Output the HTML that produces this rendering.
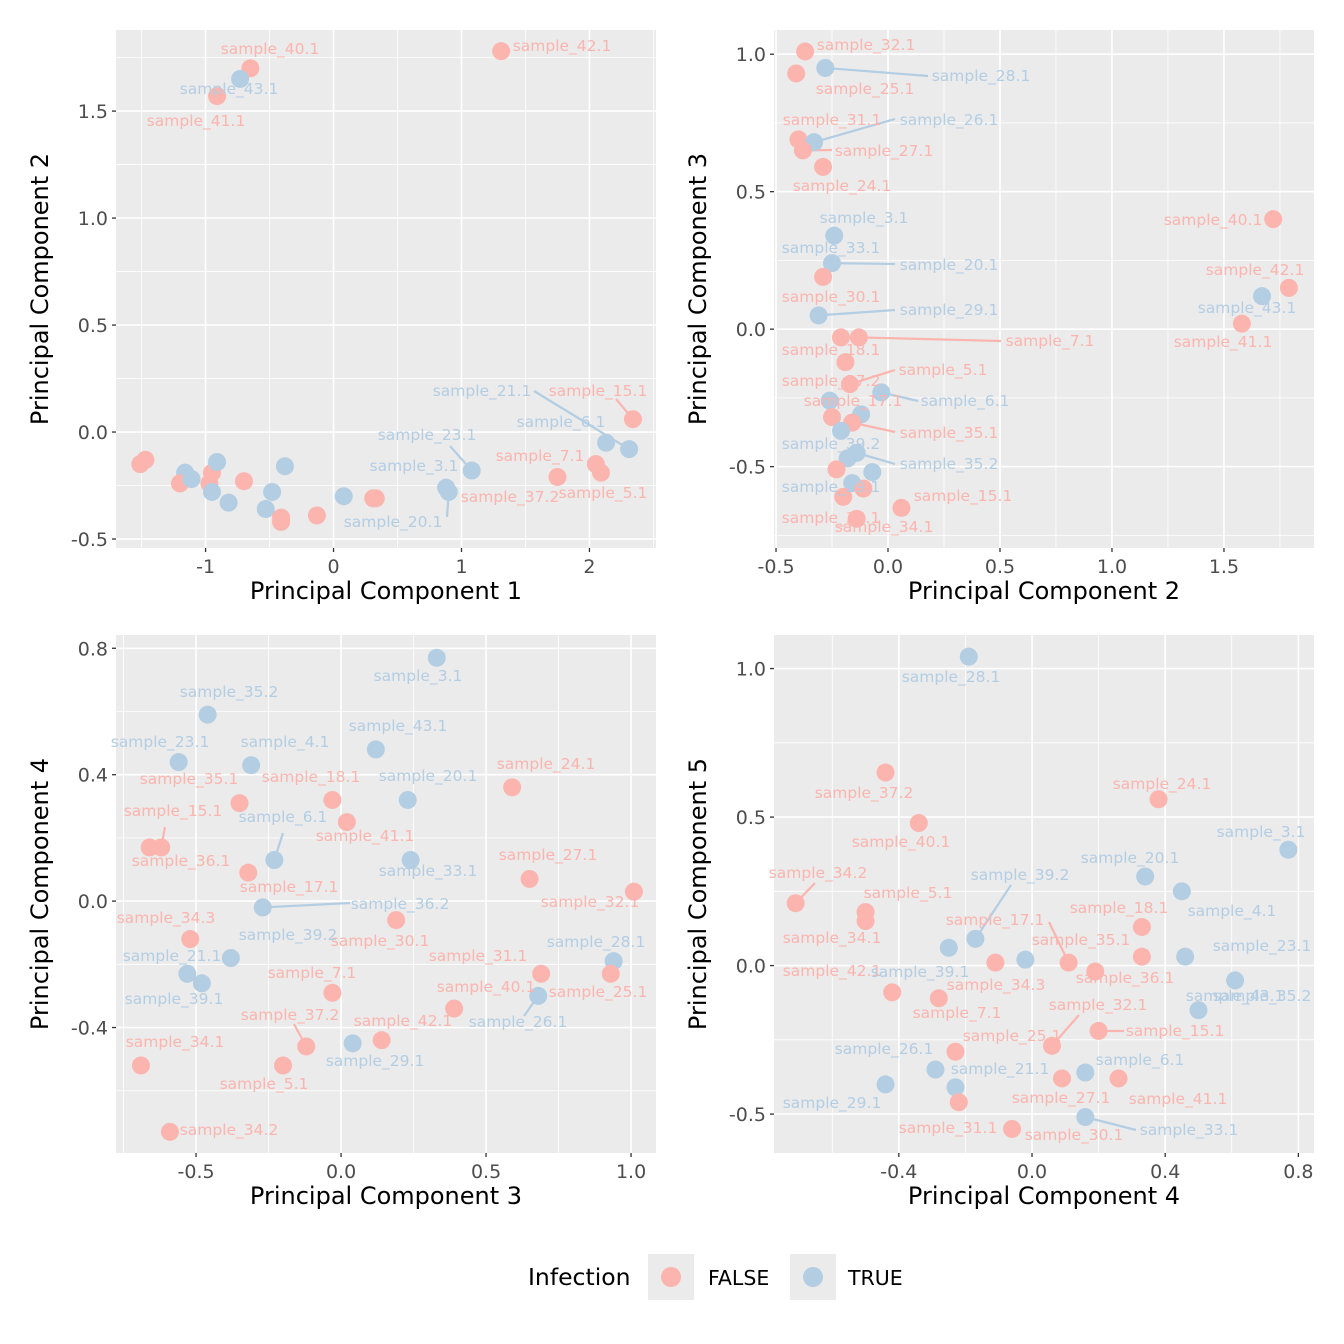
<!DOCTYPE html>
<html><head><meta charset="utf-8">
<style>
html,body{margin:0;padding:0;background:#fff;}
svg{display:block;font-family:"DejaVu Sans","Liberation Sans",sans-serif;}
</style></head>
<body>
<svg id="chart" width="1344" height="1344" viewBox="0 0 1344 1344" xmlns="http://www.w3.org/2000/svg"></svg>
<script>
// ---------- DATA ----------
// Panel 1: PC1 vs PC2
const p1Names=["sample_40.1","sample_42.1","sample_41.1","sample_43.1","a1","a2","a3","a4","a5","a6","a7","a8","a9","a10","a11","a12","a13","a14","a15","a16","a17","a18","a19","a20","sample_3.1","sample_20.1","sample_23.1","sample_37.2","sample_7.1","sample_5.1","sample_6.1","sample_21.1","sample_15.1"];
const p1X=[-0.65,1.31,-0.91,-0.73,-1.51,-1.47,-1.16,-1.20,-1.11,-0.95,-0.97,-0.91,-0.95,-0.70,-0.82,-0.48,-0.38,-0.53,-0.41,-0.41,-0.13,0.08,0.33,0.31,0.88,0.90,1.08,1.75,2.05,2.09,2.13,2.31,2.34];
const p1Y=[1.70,1.78,1.57,1.65,-0.15,-0.13,-0.19,-0.24,-0.22,-0.19,-0.24,-0.14,-0.28,-0.23,-0.33,-0.28,-0.16,-0.36,-0.42,-0.40,-0.39,-0.30,-0.31,-0.31,-0.26,-0.28,-0.18,-0.21,-0.15,-0.19,-0.05,-0.08,0.06];
const p1Grp=["F","F","F","T","F","F","T","F","T","F","F","T","T","F","T","T","T","T","F","F","F","T","F","F","T","T","T","F","F","F","T","T","F"];

// Panel 2: PC2 vs PC3
const p2Names=["sample_32.1","sample_25.1","sample_28.1","sample_31.1","sample_26.1","sample_27.1","sample_24.1","sample_3.1","sample_20.1","sample_30.1","sample_29.1","sample_18.1","sample_7.1","b1","sample_5.1","sample_6.1","b2","b3","b4","sample_35.1","b5","sample_35.2","b6","b7","b8","b9","b10","b11","sample_15.1","b12","sample_40.1","sample_42.1","sample_43.1","sample_41.1"];
const p2X=[-0.37,-0.41,-0.28,-0.40,-0.33,-0.38,-0.29,-0.24,-0.25,-0.29,-0.31,-0.21,-0.13,-0.19,-0.17,-0.03,-0.26,-0.25,-0.12,-0.16,-0.21,-0.14,-0.18,-0.23,-0.07,-0.16,-0.11,-0.20,0.06,-0.14,1.72,1.79,1.67,1.58];
const p2Y=[1.01,0.93,0.95,0.69,0.68,0.65,0.59,0.34,0.24,0.19,0.05,-0.03,-0.03,-0.12,-0.20,-0.23,-0.26,-0.32,-0.31,-0.34,-0.37,-0.45,-0.47,-0.51,-0.52,-0.56,-0.58,-0.61,-0.65,-0.69,0.40,0.15,0.12,0.02];
const p2Grp=["F","F","T","F","T","F","F","T","T","F","T","F","F","F","F","T","T","F","T","F","T","T","T","F","T","T","F","F","F","F","F","F","T","F"];

// Panel 3: PC3 vs PC4
const p3Names=["sample_3.1","sample_35.2","sample_23.1","sample_4.1","sample_43.1","sample_35.1","sample_18.1","sample_41.1","sample_20.1","sample_24.1","c1","sample_15.1","sample_6.1","sample_36.1","sample_33.1","sample_27.1","sample_32.1","sample_36.2","sample_30.1","sample_34.3","sample_21.1","sample_39.1","sample_7.1","sample_31.1","sample_28.1","sample_25.1","sample_40.1","sample_26.1","sample_37.2","sample_29.1","sample_42.1","sample_5.1","sample_34.1","sample_34.2","sample_39.2"];
const p3X=[0.33,-0.46,-0.56,-0.31,0.12,-0.35,-0.03,0.02,0.23,0.59,-0.66,-0.62,-0.23,-0.32,0.24,0.65,1.01,-0.27,0.19,-0.52,-0.53,-0.48,-0.03,0.69,0.94,0.93,0.39,0.68,-0.12,0.04,0.14,-0.20,-0.69,-0.59,-0.38];
const p3Y=[0.77,0.59,0.44,0.43,0.48,0.31,0.32,0.25,0.32,0.36,0.17,0.17,0.13,0.09,0.13,0.07,0.03,-0.02,-0.06,-0.12,-0.23,-0.26,-0.29,-0.23,-0.19,-0.23,-0.34,-0.30,-0.46,-0.45,-0.44,-0.52,-0.52,-0.73,-0.18];
const p3Grp=["T","T","T","T","T","F","F","F","T","F","F","F","T","F","T","F","F","T","F","F","T","T","F","F","T","F","F","T","F","T","F","F","F","F","T"];

// Panel 4: PC4 vs PC5
const p4Names=["sample_3.1","sample_28.1","sample_37.2","sample_40.1","sample_24.1","sample_20.1","sample_4.1","sample_34.2","sample_5.1","sample_34.1","sample_39.2","sample_39.1","d1","d2","sample_17.1","d3","sample_18.1","sample_36.1","sample_23.1","sample_43.1","sample_42.1","sample_34.3","sample_35.2","sample_15.1","sample_32.1","sample_25.1","sample_26.1","sample_29.1","sample_21.1","d4","sample_27.1","sample_6.1","sample_41.1","sample_33.1","sample_31.1"];
const p4X=[0.77,-0.19,-0.44,-0.34,0.38,0.34,0.45,-0.71,-0.50,-0.50,-0.17,-0.25,-0.11,-0.02,0.11,0.19,0.33,0.33,0.46,0.61,-0.42,-0.28,0.50,0.20,0.06,-0.23,-0.29,-0.44,-0.23,-0.22,0.09,0.16,0.26,0.16,-0.06];
const p4Y=[0.39,1.04,0.65,0.48,0.56,0.30,0.25,0.21,0.18,0.15,0.09,0.06,0.01,0.02,0.01,-0.02,0.13,0.03,0.03,-0.05,-0.09,-0.11,-0.15,-0.22,-0.27,-0.29,-0.35,-0.40,-0.41,-0.46,-0.38,-0.36,-0.38,-0.51,-0.55];
const p4Grp=["T","T","F","F","F","T","T","F","F","F","T","T","F","T","F","F","F","F","T","T","F","F","T","F","F","F","T","T","T","F","F","T","F","T","F"];

// Tick labels
const p1XTicks=[-1,0,1,2], p1YTicks=[-0.5,0.0,0.5,1.0,1.5];
const p2XTicks=[-0.5,0.0,0.5,1.0,1.5], p2YTicks=[-0.5,0.0,0.5,1.0];
const p3XTicks=[-0.5,0.0,0.5,1.0], p3YTicks=[-0.4,0.0,0.4,0.8];
const p4XTicks=[-0.4,0.0,0.4,0.8], p4YTicks=[-0.5,0.0,0.5,1.0];

// ---------- LAYOUT (label placement, not data) ----------
const p1Labels=[["sample_40.1","F",270,49],["sample_42.1","F",562,46],["sample_43.1","T",229,89],["sample_41.1","F",196,121],
["sample_21.1","T",482,391,534,391],["sample_15.1","F",598,391,616,399],["sample_6.1","T",561,422],["sample_23.1","T",427,435,450,446],
["sample_3.1","T",414,466],["sample_7.1","F",540,456],["sample_37.2","F",510,497],["sample_5.1","F",603,493],["sample_20.1","T",393,522,447,517]];
const p2Labels=[["sample_32.1","F",866,45],["sample_28.1","T",981,76,928,76],["sample_25.1","F",865,89],["sample_31.1","F",832,120],
["sample_26.1","T",949,120,895,119],["sample_27.1","F",884,151,832,150],["sample_24.1","F",842,186],["sample_3.1","T",864,218],
["sample_33.1","T",831,248],["sample_20.1","T",949,265,895,264],["sample_30.1","F",831,297],["sample_29.1","T",949,310,895,310],
["sample_7.1","F",1050,341,1001,341],["sample_18.1","F",831,350],["sample_5.1","F",943,370,895,370],["sample_37.2","F",831,381],
["sample_6.1","T",965,401,918,401],["sample_17.1","F",853,401],["sample_35.1","F",949,433,895,432],["sample_39.2","T",831,444],
["sample_35.2","T",949,464,895,464],["sample_39.1","T",831,487],["sample_15.1","F",963,496],["sample_36.1","F",831,518],["sample_34.1","F",884,527],
["sample_40.1","F",1213,220],["sample_42.1","F",1255,270],["sample_43.1","T",1247,308],["sample_41.1","F",1223,342]];
const p3Labels=[["sample_3.1","T",418,676],["sample_35.2","T",229,692],["sample_23.1","T",160,742],["sample_4.1","T",285,742],["sample_43.1","T",398,726],
["sample_35.1","F",189,779],["sample_18.1","F",311,777],["sample_41.1","F",365,836],["sample_20.1","T",428,776],["sample_24.1","F",546,764],
["sample_15.1","F",173,811,165,827],["sample_6.1","T",283,817,283,833],["sample_36.1","F",181,861],["sample_33.1","T",428,871],["sample_27.1","F",548,855],
["sample_32.1","F",590,902],["sample_17.1","F",289,887],["sample_36.2","T",400,904,350,903],["sample_30.1","F",380,941],["sample_34.3","F",166,918],
["sample_39.2","T",288,935],["sample_21.1","T",172,956],["sample_39.1","T",174,999],["sample_7.1","F",312,973],["sample_31.1","F",478,956],
["sample_28.1","T",596,942],["sample_25.1","F",598,992],["sample_40.1","F",486,987],["sample_26.1","T",518,1022,524,1016],["sample_37.2","F",290,1015,294,1024],
["sample_29.1","T",375,1061],["sample_42.1","F",403,1021],["sample_5.1","F",264,1084],["sample_34.1","F",175,1042],["sample_34.2","F",229,1130]];
const p4Labels=[["sample_3.1","T",1261,832],["sample_28.1","T",951,677],["sample_37.2","F",864,793],["sample_40.1","F",901,842],["sample_24.1","F",1162,784],
["sample_20.1","T",1130,858],["sample_4.1","T",1232,911],["sample_34.2","F",818,873,815,883],["sample_5.1","F",908,893],["sample_34.1","F",832,938],
["sample_39.2","T",1020,875,1011,885],["sample_17.1","F",995,920,1049,922],["sample_35.1","F",1081,940],["sample_18.1","F",1119,908],["sample_36.1","F",1125,978],
["sample_23.1","T",1262,946],["sample_43.1","T",1235,996],["sample_35.2","T",1262,996],["sample_42.1","F",832,971],["sample_34.3","F",996,985],["sample_39.1","T",920,972],
["sample_7.1","F",957,1013],["sample_15.1","F",1175,1031,1124,1031],["sample_32.1","F",1098,1005,1079,1015],["sample_25.1","F",1012,1036],["sample_26.1","T",884,1049],
["sample_21.1","T",1000,1069],["sample_29.1","T",832,1103],["sample_6.1","T",1140,1060],["sample_41.1","F",1178,1099],["sample_27.1","F",1061,1098],
["sample_33.1","T",1189,1130,1136,1130],["sample_31.1","F",948,1128],["sample_30.1","F",1074,1135]];

const COL={F:"#FBB4AE",T:"#B3CDE3"};
const NS="http://www.w3.org/2000/svg";
const svg=document.getElementById("chart");
function mk(tag,attrs,parent){const e=document.createElementNS(NS,tag);for(const k in attrs)e.setAttribute(k,attrs[k]);(parent||svg).appendChild(e);return e;}
function fmt(v,d){return (v<0?"-":"")+Math.abs(v).toFixed(d);}

const panels=[
 {id:"pc1-pc2",L:116,R:656,T:30,B:548,xd:[-1.70,2.52],yd:[-0.542,1.879],xt:p1XTicks,yt:p1YTicks,xdec:0,ydec:1,xtitle:"Principal Component 1",ytitle:"Principal Component 2",
  names:p1Names,xs:p1X,ys:p1Y,gs:p1Grp,labels:p1Labels},
 {id:"pc2-pc3",L:774,R:1314,T:30,B:548,xd:[-0.509,1.902],yd:[-0.796,1.088],xt:p2XTicks,yt:p2YTicks,xdec:1,ydec:1,xtitle:"Principal Component 2",ytitle:"Principal Component 3",
  names:p2Names,xs:p2X,ys:p2Y,gs:p2Grp,labels:p2Labels},
 {id:"pc3-pc4",L:116,R:656,T:635,B:1153,xd:[-0.776,1.086],yd:[-0.797,0.842],xt:p3XTicks,yt:p3YTicks,xdec:1,ydec:1,xtitle:"Principal Component 3",ytitle:"Principal Component 4",
  names:p3Names,xs:p3X,ys:p3Y,gs:p3Grp,labels:p3Labels},
 {id:"pc4-pc5",L:774,R:1314,T:635,B:1153,xd:[-0.775,0.847],yd:[-0.631,1.113],xt:p4XTicks,yt:p4YTicks,xdec:1,ydec:1,xtitle:"Principal Component 4",ytitle:"Principal Component 5",
  names:p4Names,xs:p4X,ys:p4Y,gs:p4Grp,labels:p4Labels}
];

panels.forEach(p=>{
  const sx=v=>p.L+(v-p.xd[0])/(p.xd[1]-p.xd[0])*(p.R-p.L);
  const sy=v=>p.B-(v-p.yd[0])/(p.yd[1]-p.yd[0])*(p.B-p.T);
  const g=mk("g",{});
  
  
  const bg=mk("rect",{x:p.L,y:p.T,width:p.R-p.L,height:p.B-p.T,fill:"#EBEBEB"},g);
  
  
  const xs=p.xt, ys=p.yt;
  const xstep=xs[1]-xs[0], ystep=ys[1]-ys[0];
  for(let v=xs[0]-xstep/2; v<=xs[xs.length-1]+xstep; v+=xstep){const X=sx(v); if(X>p.L&&X<p.R){const l=mk("line",{x1:X,x2:X,y1:p.T,y2:p.B,stroke:"#fff","stroke-width":0.8},g);}}
  for(let v=ys[0]-ystep/2; v<=ys[ys.length-1]+ystep; v+=ystep){const Y=sy(v); if(Y>p.T&&Y<p.B){const l=mk("line",{x1:p.L,x2:p.R,y1:Y,y2:Y,stroke:"#fff","stroke-width":0.8},g);}}
  xs.forEach(v=>{const X=sx(v);
    const l=mk("line",{x1:X,x2:X,y1:p.T,y2:p.B,stroke:"#fff","stroke-width":1.6},g);
    const t=mk("line",{x1:X,x2:X,y1:p.B,y2:p.B+4,stroke:"#333","stroke-width":1.3},g);
    const tx=mk("text",{x:X,y:p.B+25,"text-anchor":"middle","font-size":19,fill:"#4D4D4D"},g);tx.textContent=fmt(v,p.xdec);
    });
  ys.forEach(v=>{const Y=sy(v);
    const l=mk("line",{x1:p.L,x2:p.R,y1:Y,y2:Y,stroke:"#fff","stroke-width":1.6},g);
    const t=mk("line",{x1:p.L-4,x2:p.L,y1:Y,y2:Y,stroke:"#333","stroke-width":1.3},g);
    const tx=mk("text",{x:p.L-8,y:Y+7,"text-anchor":"end","font-size":19,fill:"#4D4D4D"},g);tx.textContent=fmt(v,p.ydec);
    });
  const xt=mk("text",{x:(p.L+p.R)/2,y:p.B+51,"text-anchor":"middle","font-size":24,fill:"#000"},g);xt.textContent=p.xtitle;
  
  const cy=(p.T+p.B)/2, cx=p.L-68;
  const yt=mk("text",{x:cx,y:cy,"text-anchor":"middle","font-size":24,fill:"#000",transform:`rotate(-90 ${cx} ${cy})`},g);yt.textContent=p.ytitle;
  
  p.labels.forEach(lb=>{
    if(lb.length>4){const i=p.names.indexOf(lb[0]); if(i>=0){
      const s=mk("line",{x1:lb[4],y1:lb[5],x2:sx(p.xs[i]),y2:sy(p.ys[i]),stroke:COL[lb[1]],"stroke-width":2.2},g);
      
      }}
  });
  p.xs.forEach((v,i)=>{
    const c=mk("circle",{cx:sx(v),cy:sy(p.ys[i]),r:9,fill:COL[p.gs[i]]},g);
    
    
  });
  p.labels.forEach(lb=>{
    const t=mk("text",{x:lb[2],y:lb[3]+5,"text-anchor":"middle","font-size":15.5,fill:COL[lb[1]]},g);
    t.textContent=lb[0];
    
    
  });
});

const lg=mk("g",{});


const lt=mk("text",{x:528,y:1285,"font-size":23.5,fill:"#000"},lg);lt.textContent="Infection";

[["FALSE","F",648,708],["TRUE","T",790,848]].forEach(e=>{
  const r=mk("rect",{x:e[2],y:1254,width:46,height:46,fill:"#EBEBEB"},lg);
  
  const c=mk("circle",{cx:e[2]+23,cy:1277,r:10,fill:COL[e[1]]},lg);
  
  const t=mk("text",{x:e[3],y:1285,"font-size":20.5,fill:"#000"},lg);t.textContent=e[0];
  
});
</script>
</body></html>
